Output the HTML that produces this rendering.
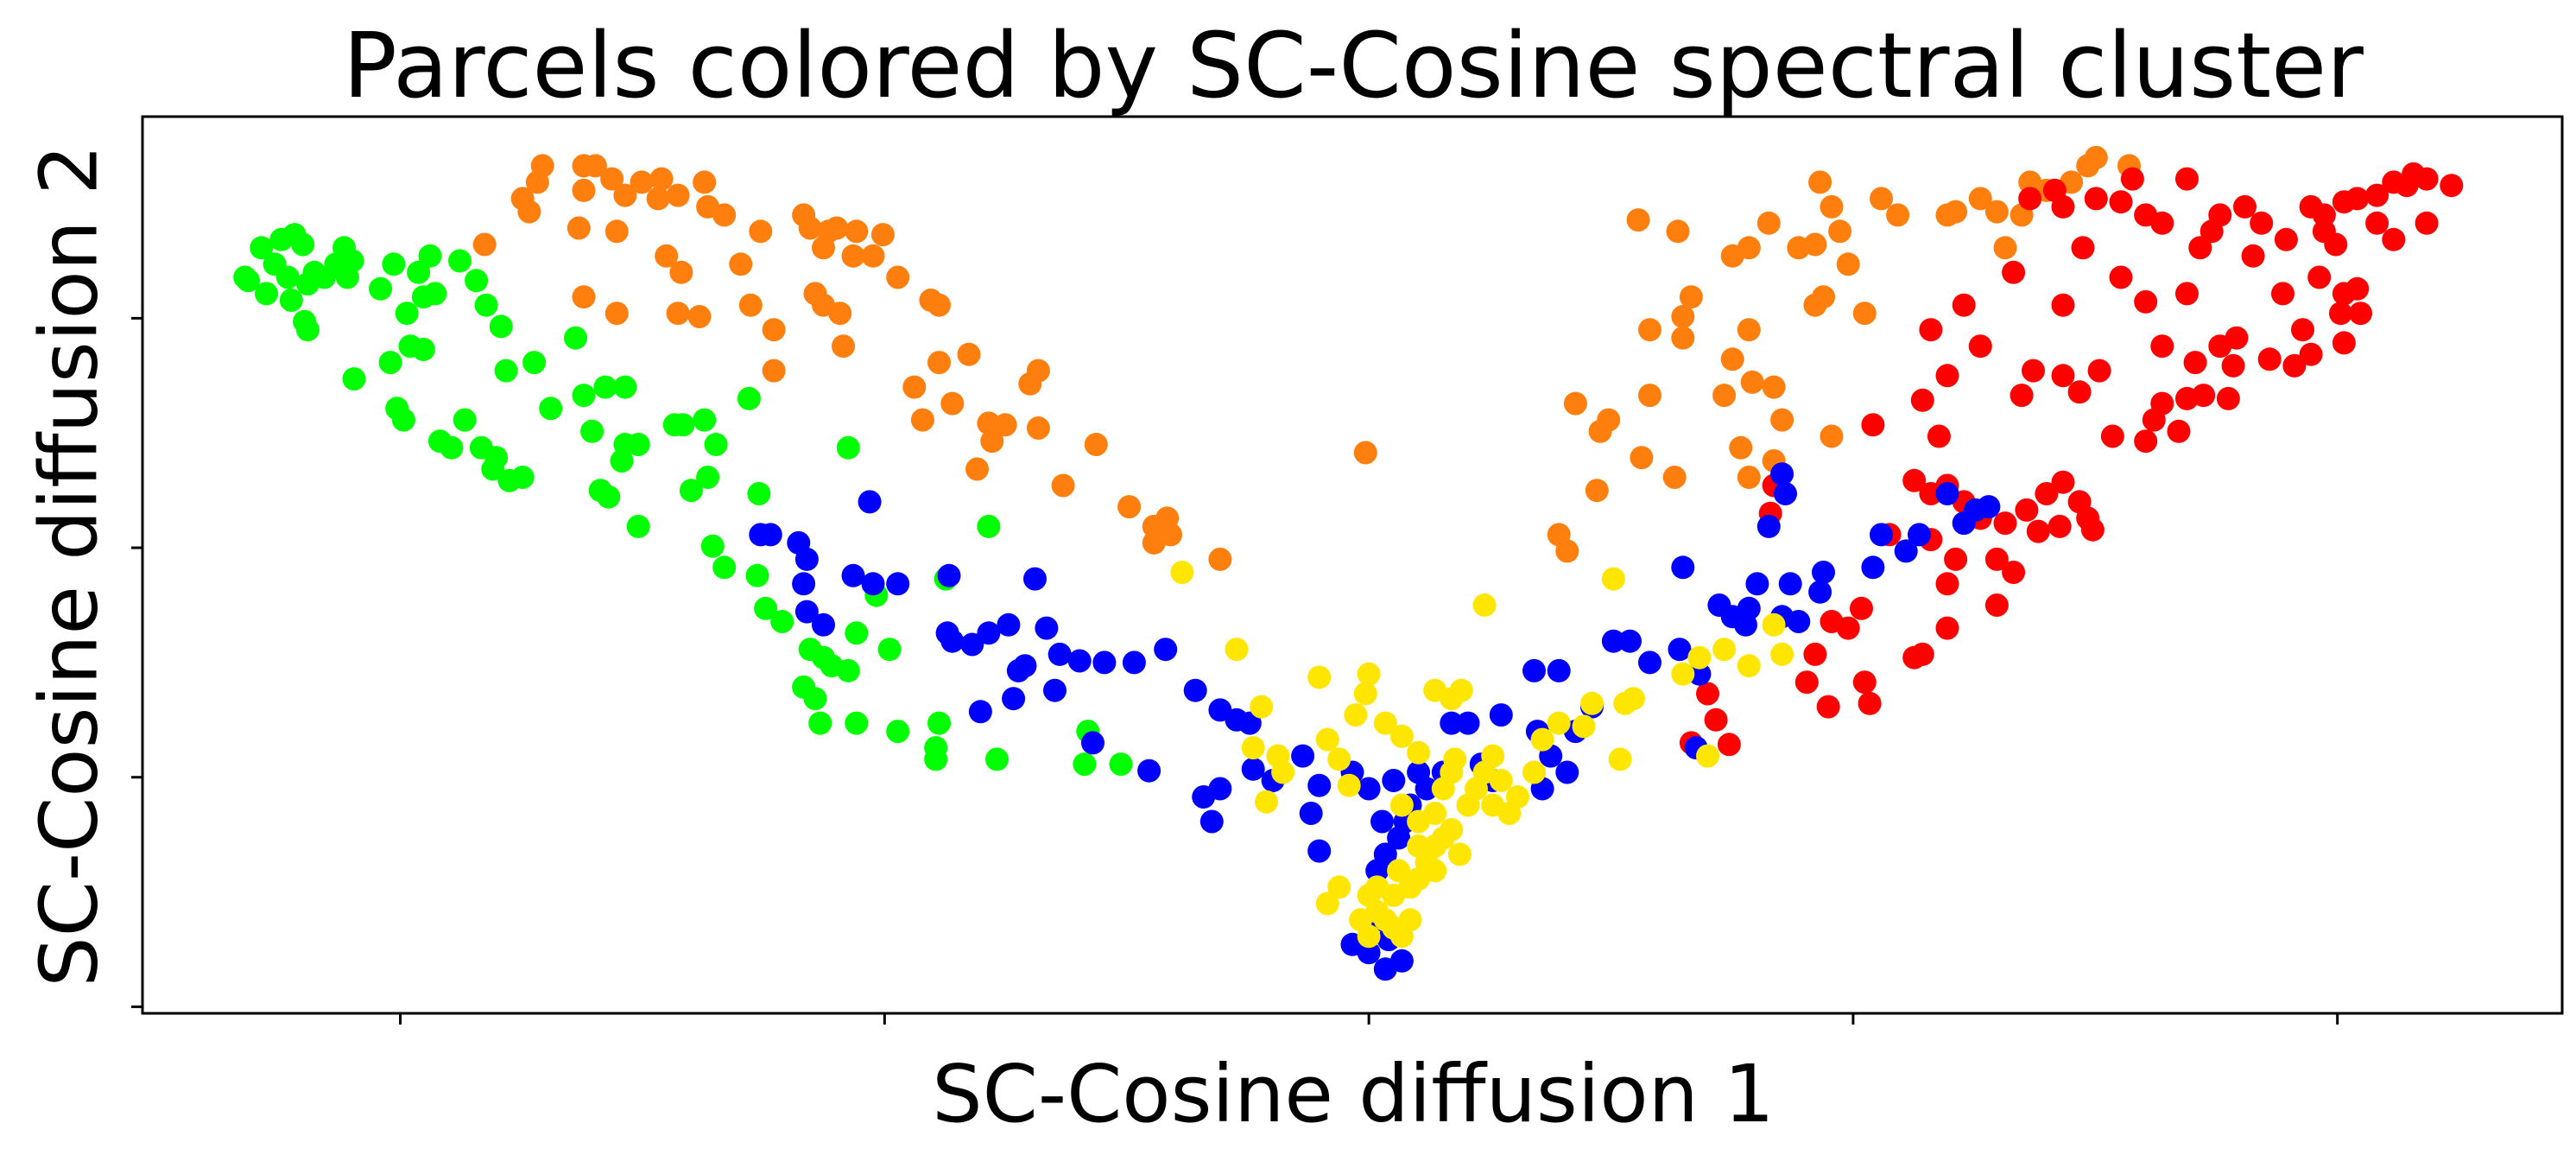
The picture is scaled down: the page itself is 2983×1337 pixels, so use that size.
<!DOCTYPE html>
<html><head><meta charset="utf-8"><style>
html,body{margin:0;padding:0;background:#fff}
svg{display:block}
text{font-family:"DejaVu Sans","Liberation Sans",sans-serif;fill:#000}
</style></head><body>
<svg id="chart" width="2983" height="1337" viewBox="0 0 2983 1337" xmlns="http://www.w3.org/2000/svg">
<rect width="2983" height="1337" fill="#fff"/>
<text x="1567" y="112" font-size="104" text-anchor="middle">Parcels colored by SC-Cosine spectral cluster</text>
<text x="1567" y="1298" font-size="92" text-anchor="middle">SC-Cosine diffusion 1</text>
<text transform="translate(80,655) rotate(-90)" font-size="92" text-anchor="middle" dominant-baseline="central">SC-Cosine diffusion 2</text>
<g id="points"></g>
<g id="axes"></g>
</svg>
<script>
// Cluster point values (diffusion coordinates, arbitrary units; y measured downward from plot top reference)
const greenPts = [152,170,160,150,168,160,172,145,180,142,185,148,176,168,188,172,192,165,186,195,188,200,198,168,205,160,210,150,215,158,212,168,150,168,163,178,178,182,240,160,255,165,258,180,265,178,262,155,280,158,290,170,296,185,305,198,232,175,248,190,238,220,250,210,258,212,216,230,242,248,246,255,268,268,275,272,283,255,293,272,300,285,310,292,302,278,318,290,308,225,325,220,335,248,350,205,355,240,368,235,380,235,360,262,380,270,388,270,410,258,415,258,428,255,378,280,365,298,370,302,388,320,420,298,430,290,435,270,455,242,461,300,433,332,440,345,460,350,465,370,475,378,492,395,500,400,488,418,495,425,505,405,515,408,520,385,532,362,515,272,540,395,498,440,520,440,545,445,568,455,568,462,570,440,600,320,574,352,605,462,660,445,658,465,680,465];
const orangePts = [330,100,327,110,355,100,362,100,372,108,380,118,390,110,400,120,402,108,412,118,428,110,430,125,318,120,322,128,295,148,355,115,352,138,375,140,405,155,414,165,440,130,450,160,456,185,462,140,470,200,470,225,488,130,492,138,503,140,508,138,500,150,520,140,536,142,518,155,530,155,495,178,500,185,510,190,545,168,565,182,570,185,355,180,375,190,412,190,425,192,512,210,555,235,570,220,560,255,578,245,588,215,600,257,610,258,602,268,625,233,630,225,630,260,593,285,645,295,665,270,685,308,700,320,708,315,710,325,700,330,740,340,828,275,1000,200,993,133,1017,140,1020,192,1020,205,1025,180,1050,155,1060,150,1072,135,1090,150,1100,148,1103,110,1110,125,1115,140,1120,160,1130,190,1140,120,1150,130,1180,130,1185,128,1200,120,1210,128,1215,150,1225,130,1230,110,1240,115,1255,110,1265,100,1270,95,1290,100,1100,185,1105,180,1060,200,1050,218,1045,240,1062,232,1075,235,1080,255,1055,272,1060,290,1075,280,1110,265,1000,240,975,255,955,245,968,298,995,278,1015,290,950,335,945,325,970,262];
const redPts = [1230,120,1245,115,1250,125,1270,120,1285,122,1292,108,1300,130,1310,135,1325,108,1333,150,1340,140,1345,130,1360,125,1365,155,1370,135,1385,145,1400,125,1408,130,1420,122,1428,120,1440,118,1450,110,1458,112,1462,105,1470,108,1485,112,1440,135,1450,145,1470,135,1408,140,1415,148,1405,168,1383,178,1395,200,1420,178,1418,190,1428,175,1430,190,1420,208,1400,215,1390,222,1375,218,1355,205,1345,210,1353,222,1330,220,1325,178,1300,183,1310,210,1285,168,1262,150,1250,185,1220,165,1190,185,1200,210,1170,200,1180,228,1175,265,1165,243,1225,240,1232,225,1250,228,1260,238,1272,225,1280,265,1300,268,1305,255,1310,245,1320,262,1325,242,1335,240,1350,242,1135,258,1160,292,1170,300,1180,295,1190,305,1200,315,1215,318,1210,340,1220,348,1235,323,1240,300,1250,293,1260,305,1265,315,1268,322,1248,320,1228,310,1185,340,1180,355,1170,328,1180,382,1165,398,1160,400,1120,382,1110,378,1100,398,1095,415,1108,430,1130,415,1133,428,1145,325,1210,368,1035,422,1040,438,1025,452,1048,453,1073,312,1075,295,1128,370];
const bluePts = [462,325,468,325,485,330,490,340,528,305,518,350,530,355,545,355,576,350,628,352,488,355,490,372,500,380,575,385,578,390,590,392,600,385,612,380,622,405,618,408,635,382,643,398,655,402,670,403,688,403,707,395,595,433,615,425,640,420,725,420,740,432,750,438,758,440,663,452,697,469,730,485,740,480,735,500,760,468,772,475,790,460,800,478,795,495,800,518,820,470,830,480,838,500,845,475,820,575,830,580,840,590,850,585,835,530,840,520,848,510,852,500,855,490,860,470,865,480,875,470,880,440,890,440,898,465,905,475,910,435,930,408,945,408,932,445,940,460,950,470,935,480,955,445,965,430,978,390,988,390,1000,403,1020,345,1018,395,1030,410,1042,368,1050,375,1058,380,1060,370,1065,355,1072,320,1085,355,1080,375,1090,378,1103,360,1105,348,1080,288,1082,300,1135,345,1140,325,1155,335,1163,325,1180,300,1190,318,1197,310,1205,308,1028,455,838,560,842,572];
const yellowPts = [717,348,830,410,800,412,775,460,760,455,750,395,765,430,768,488,778,470,805,450,812,462,818,478,822,435,828,422,840,440,850,448,860,458,870,420,880,425,886,420,900,368,882,462,875,480,870,495,860,500,880,505,885,520,890,490,895,480,900,470,905,460,910,475,915,495,920,485,930,470,935,450,945,440,960,442,965,428,978,352,985,428,982,462,990,425,1020,410,1030,400,1045,395,1060,405,1075,380,1080,398,1035,460,805,550,812,540,830,545,835,555,840,560,845,565,850,570,855,540,860,535,865,525,870,515,875,510,830,570,825,560,845,545,855,560,870,530,848,530,835,540,860,515,880,470,905,490,850,490];
const clusterNames = ["green","orange","red","blue","yellow"];
const clusterColors = ["#00ff00","#ff7f0e","#ff0000","#0000ff","#ffe600"];
const xTickValues = [244,537,830,1123,1416];
const yTickValues = [193,333,473,613];

const PL=165, PR=2967, PT=135, PB=1173;
const xDom=[88,1552], yDom=[70,617];
function xs(v){return PL+(v-xDom[0])/(xDom[1]-xDom[0])*(PR-PL);}
function ys(v){return PT+(v-yDom[0])/(yDom[1]-yDom[0])*(PB-PT);}
const NS="http://www.w3.org/2000/svg";
const gp=document.getElementById('points');
const sets=[greenPts,orangePts,redPts,bluePts,yellowPts];
sets.forEach((arr,ci)=>{
  for(let i=0;i<arr.length;i+=2){
    const c=document.createElementNS(NS,'circle');
    c.setAttribute('cx',xs(arr[i]).toFixed(1));
    c.setAttribute('cy',ys(arr[i+1]).toFixed(1));
    c.setAttribute('r',13.5);
    c.setAttribute('fill',clusterColors[ci]);
    
    
    gp.appendChild(c);
  }
});
const ga=document.getElementById('axes');
const fr=document.createElementNS(NS,'rect');
fr.setAttribute('x',PL);fr.setAttribute('y',PT);fr.setAttribute('width',PR-PL);fr.setAttribute('height',PB-PT);
fr.setAttribute('fill','none');fr.setAttribute('stroke','#000');fr.setAttribute('stroke-width',3);


ga.appendChild(fr);
xTickValues.forEach(v=>{
  const l=document.createElementNS(NS,'line');
  l.setAttribute('x1',xs(v));l.setAttribute('x2',xs(v));l.setAttribute('y1',PB);l.setAttribute('y2',PB+13);
  l.setAttribute('stroke','#000');l.setAttribute('stroke-width',3);
  
  
  ga.appendChild(l);
});
yTickValues.forEach(v=>{
  const l=document.createElementNS(NS,'line');
  l.setAttribute('x1',PL-13);l.setAttribute('x2',PL);l.setAttribute('y1',ys(v));l.setAttribute('y2',ys(v));
  l.setAttribute('stroke','#000');l.setAttribute('stroke-width',3);
  
  
  ga.appendChild(l);
});
</script>
</body></html>
